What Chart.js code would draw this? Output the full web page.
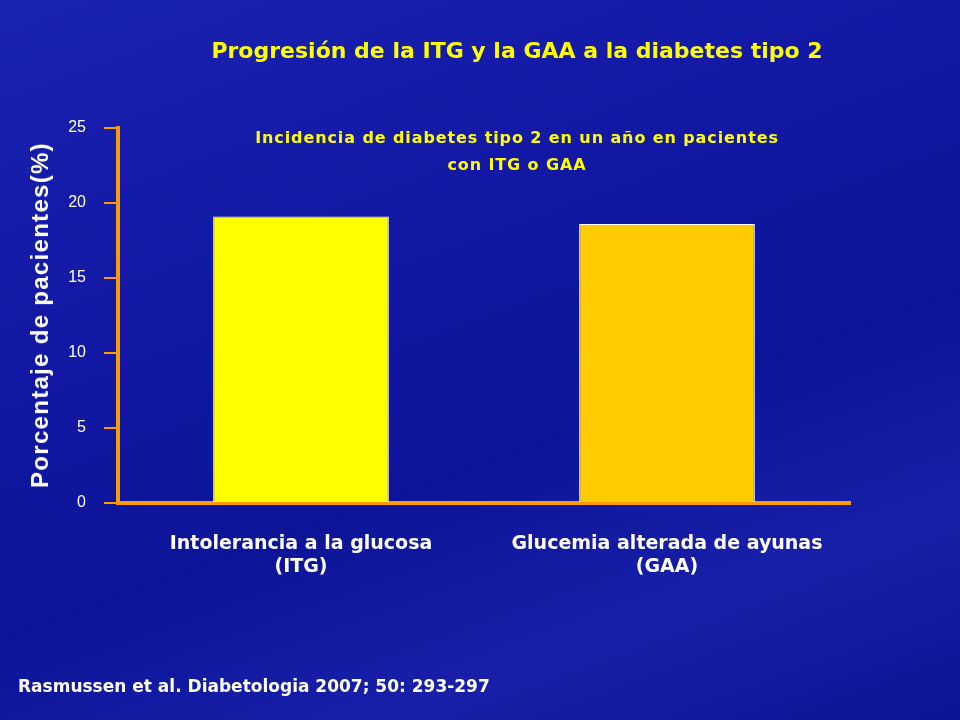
<!DOCTYPE html>
<html><head><meta charset="utf-8">
<script src="https://cdn.jsdelivr.net/npm/chart.js@4"></script>
<style>
body{margin:0;width:960px;height:720px;overflow:hidden;font-family:"DejaVu Sans",sans-serif;
background:linear-gradient(160deg,#1a22b0 0%,#1218a4 35%,#0c1498 60%,#1820aa 80%,#0c1492 100%);}
#wrap{position:absolute;left:0;top:0;width:960px;height:720px}
.t{position:absolute;font-weight:bold;white-space:nowrap}
</style></head><body>
<div id="wrap"><canvas id="c" width="960" height="720"></canvas></div>
<div class="t" style="left:0;width:1034px;top:38px;text-align:center;color:#ffff00;font-size:22px">Progresión de la ITG y la GAA a la diabetes tipo 2</div>
<div class="t" style="left:0;width:1034px;top:124px;text-align:center;color:#ffff00;font-size:16px;line-height:27px;letter-spacing:0.9px">Incidencia de diabetes tipo 2 en un año en pacientes<br>con ITG o GAA</div>
<div class="t" style="left:40px;top:315px;transform:translate(-50%,-50%) rotate(-90deg);color:#fff;font-family:'Liberation Sans',Arial,sans-serif;font-size:24px;letter-spacing:1.3px">Porcentaje de pacientes(%)</div>
<div class="t" style="left:18px;top:676px;color:#fff;font-size:17px">Rasmussen et al. Diabetologia 2007; 50: 293-297</div>
<script>
const categories=[["Intolerancia a la glucosa","(ITG)"],["Glucemia alterada de ayunas","(GAA)"]];
const values=[19.1,18.6];
const barColors=["#ffff00","#ffcc00"];
const yTicks=[0,5,10,15,20,25];
const orange="#ff9900";
new Chart(document.getElementById('c'),{
type:'bar',
data:{labels:categories,datasets:[{data:values,backgroundColor:barColors,borderColor:"#ffffff",borderWidth:1,barPercentage:0.48,categoryPercentage:1}]},
options:{responsive:false,animation:false,
layout:{padding:{left:0,top:128,right:110,bottom:0}},
plugins:{legend:{display:false},tooltip:{enabled:false}},
scales:{
x:{afterFit:s=>{s.height=217},grid:{display:false},border:{color:orange,width:4},
ticks:{color:"#fff",font:{size:19,weight:'bold',family:"DejaVu Sans"},padding:22}},
y:{min:0,max:25,afterFit:s=>{s.width=118},afterBuildTicks:s=>{s.ticks=yTicks.map(v=>({value:v}))},
grid:{drawOnChartArea:false,color:orange,tickLength:14,lineWidth:2},border:{color:orange,width:4},
ticks:{color:"#fff",font:{size:16,family:"Liberation Sans"},padding:18}}
}}});
</script></body></html>
